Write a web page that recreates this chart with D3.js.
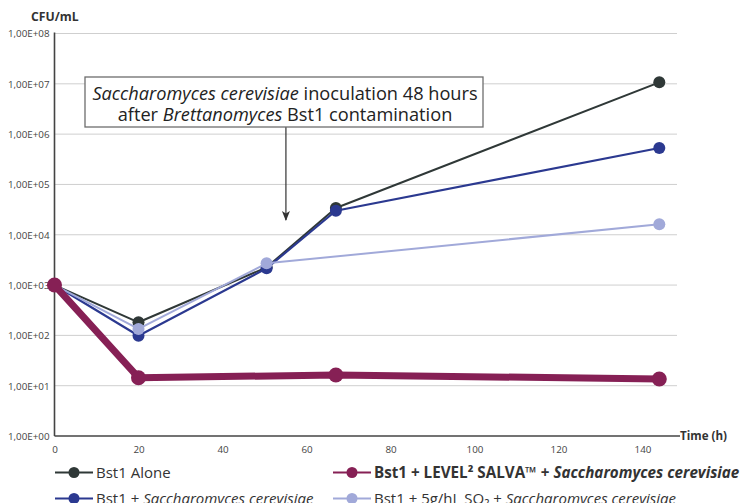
<!DOCTYPE html>
<html>
<head>
<meta charset="utf-8">
<script src="https://cdn.jsdelivr.net/npm/d3@7"></script>
<style>
  body { margin: 0; background: #fff; }
  svg { display: block; font-family: "Open Sans", sans-serif; }
  .grid line { stroke: #cfcfcf; stroke-width: 1; }
  .tick text { fill: #444; }
</style>
</head>
<body>
<svg></svg>
<script>
var width = 740,
    height = 503,
    plotLeft = 54.5,
    plotRight = 677,
    plotTop = 33.5,
    plotBottom = 436;

// data
var times = [0, 20, 50.5, 67, 144];
var bst1Alone = [1000, 182, 2250, 34000, 1.07e7];
var bst1Sacch = [1000, 98, 2150, 30000, 5.3e5];
var bst1So2 = [1000, 134, 2700, null, 16100];
var bst1Salva = [1000, 14.4, null, 16.3, 13.6];

var xTicks = [0, 20, 40, 60, 80, 100, 120, 140];
var yTicks = [1, 10, 100, 1e3, 1e4, 1e5, 1e6, 1e7, 1e8];
var yTickLabels = ["1,00E+00", "1,00E+01", "1,00E+02", "1,00E+03", "1,00E+04",
    "1,00E+05", "1,00E+06", "1,00E+07", "1,00E+08"];

var annotationTime = 55.1,
    annotationValue = 19600;

var series = [
    { name: "alone", values: bst1Alone, color: "#2f3837", width: 2, r: 6 },
    { name: "sacch", values: bst1Sacch, color: "#2b3990", width: 2.2, r: 6 },
    { name: "so2", values: bst1So2, color: "#a1a9d9", width: 2, r: 6 },
    { name: "salva", values: bst1Salva, color: "#862055", width: 7, r: 7.5 }
];

var svg = d3.select("svg")
    .attr("width", width)
    .attr("height", height);

var x = d3.scaleLinear()
    .domain([0, 140])
    .range([plotLeft, plotLeft + 140 * 4.2]);

var y = d3.scaleLog()
    .domain([1, 1e8])
    .range([plotBottom, plotTop]);

// grid
svg.append("g")
    .attr("class", "grid")
    .selectAll("line")
    .data(yTicks.slice(1))
    .enter().append("line")
    .attr("x1", plotLeft)
    .attr("x2", plotRight)
    .attr("y1", d => y(d))
    .attr("y2", d => y(d));

// y axis labels
var yAxis = svg.append("g")
    .attr("transform", "translate(" + (plotLeft - 5) + ",0)")
    .call(d3.axisLeft(y)
        .tickValues(yTicks)
        .tickSize(0)
        .tickPadding(0)
        .tickFormat((d, i) => yTickLabels[i]));
yAxis.select(".domain").remove();
yAxis.selectAll("text")
    .attr("font-size", 9.8)
    .attr("font-family", "Open Sans, sans-serif")
    .attr("dy", "0.35em");

// x axis labels
var xAxis = svg.append("g")
    .attr("transform", "translate(0," + plotBottom + ")")
    .call(d3.axisBottom(x)
        .tickValues(xTicks)
        .tickSize(0)
        .tickPadding(10));
xAxis.select(".domain").remove();
xAxis.selectAll("text")
    .attr("font-size", 9.8)
    .attr("font-family", "Open Sans, sans-serif")
    .attr("fill", "#555");

// axis lines
svg.append("line")
    .attr("x1", plotLeft).attr("x2", plotLeft)
    .attr("y1", plotTop - 1).attr("y2", plotBottom)
    .attr("stroke", "#444").attr("stroke-width", 1.6);
svg.append("line")
    .attr("x1", plotLeft).attr("x2", 680)
    .attr("y1", plotBottom).attr("y2", plotBottom)
    .attr("stroke", "#444").attr("stroke-width", 1.6);

svg.append("text")
    .attr("x", 31).attr("y", 20.5)
    .attr("font-size", 12.2)
    .attr("font-weight", "bold")
    .attr("fill", "#333")
    .text("CFU/mL");

svg.append("text")
    .attr("x", 680).attr("y", plotBottom + 4)
    .attr("font-size", 11.6)
    .attr("font-weight", "bold")
    .attr("fill", "#333")
    .text("Time (h)");

// series
var line = d3.line()
    .x(d => x(d.t))
    .y(d => y(d.v));

series.forEach(s => {
    var pts = times.map((t, i) => ({ t: t, v: s.values[i] }))
        .filter(d => d.v != null);
    var g = svg.append("g");
    g.append("path")
        .datum(pts)
        .attr("fill", "none")
        .attr("stroke", s.color)
        .attr("stroke-width", s.width)
        .attr("stroke-linejoin", "round")
        .attr("d", line);
    g.selectAll("circle")
        .data(pts)
        .enter().append("circle")
        .attr("cx", d => x(d.t))
        .attr("cy", d => y(d.v))
        .attr("r", s.r)
        .attr("fill", s.color);
});

// annotation
svg.append("defs").append("marker")
    .attr("id", "arrow")
    .attr("viewBox", "0 0 10 10")
    .attr("refX", 9).attr("refY", 5)
    .attr("markerWidth", 10).attr("markerHeight", 10)
    .attr("markerUnits", "userSpaceOnUse")
    .attr("orient", "auto")
    .append("path")
    .attr("d", "M0,1 L10,5 L0,9 L2.5,5 Z")
    .attr("fill", "#333");

svg.append("line")
    .attr("x1", x(annotationTime)).attr("x2", x(annotationTime))
    .attr("y1", 127).attr("y2", y(annotationValue))
    .attr("stroke", "#333")
    .attr("stroke-width", 1.2)
    .attr("marker-end", "url(#arrow)");

svg.append("rect")
    .attr("x", 85).attr("y", 77)
    .attr("width", 398).attr("height", 50)
    .attr("fill", "#fff")
    .attr("stroke", "#6d6d6d")
    .attr("stroke-width", 1.3);

var note = svg.append("text")
    .attr("text-anchor", "middle")
    .attr("font-size", 18.2)
    .attr("fill", "#222");
var l1 = note.append("tspan").attr("x", 285).attr("y", 100);
l1.append("tspan").attr("font-style", "italic").text("Saccharomyces cerevisiae");
l1.append("tspan").text(" inoculation 48 hours");
var l2 = note.append("tspan").attr("x", 285).attr("y", 120.5);
l2.append("tspan").text("after ");
l2.append("tspan").attr("font-style", "italic").text("Brettanomyces");
l2.append("tspan").text(" Bst1 contamination");

// legend
var legendItems = [
    { s: 0, x: 55, y: 472.5, bold: false, parts: [["Bst1 Alone", false]] },
    { s: 3, x: 333, y: 472.5, bold: true, parts: [["Bst1 + LEVEL\u00b2 SALVA\u2122 + ", false], ["Saccharomyces cerevisiae", true]] },
    { s: 1, x: 55, y: 498.5, bold: false, parts: [["Bst1 + ", false], ["Saccharomyces cerevisiae", true]] },
    { s: 2, x: 333, y: 498.5, bold: false, parts: [["Bst1 + 5g/hL SO\u2082 + ", false], ["Saccharomyces cerevisiae", true]] }
];

legendItems.forEach(it => {
    var s = series[it.s];
    var g = svg.append("g").attr("transform", "translate(" + [it.x, it.y] + ")");
    g.append("line")
        .attr("x1", 0).attr("x2", 38)
        .attr("stroke", s.color)
        .attr("stroke-width", 2.2);
    g.append("circle")
        .attr("cx", 19).attr("r", 5.5)
        .attr("fill", s.color);
    var t = g.append("text")
        .attr("x", 41).attr("y", 5)
        .attr("font-size", it.bold ? 15.2 : 15)
        .attr("font-weight", it.bold ? "bold" : "normal")
        .attr("fill", "#333");
    it.parts.forEach(p => {
        t.append("tspan")
            .attr("font-style", p[1] ? "italic" : "normal")
            .text(p[0]);
    });
});
</script>
</body>
</html>
